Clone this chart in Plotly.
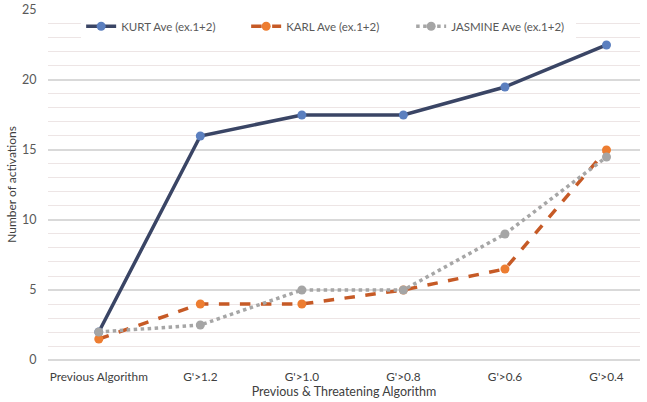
import plotly.graph_objects as go

categories = ["Previous Algorithm", "G'>1.2", "G'>1.0", "G'>0.8", "G'>0.6", "G'>0.4"]
kurt = [2, 16, 17.5, 17.5, 19.5, 22.5]
karl = [1.5, 4, 4, 5, 6.5, 15]
jasmine = [2, 2.5, 5, 5, 9, 14.5]

xi = list(range(len(categories)))

fig = go.Figure()
fig.add_trace(go.Scatter(
    x=xi, y=kurt, name="KURT Ave (ex.1+2)", mode="lines+markers",
    line=dict(color="#3A4565", width=3.5),
    marker=dict(color="#5B7FBF", size=9),
))
fig.add_trace(go.Scatter(
    x=xi, y=karl, name="KARL Ave (ex.1+2)", mode="lines+markers",
    line=dict(color="#C65A26", width=3.5, dash="dash"),
    marker=dict(color="#ED7D31", size=9),
))
fig.add_trace(go.Scatter(
    x=xi, y=jasmine, name="JASMINE Ave (ex.1+2)", mode="lines+markers",
    line=dict(color="#A6A6A6", width=3.5, dash="dot"),
    marker=dict(color="#A5A5A5", size=9),
))

fig.update_layout(
    width=647, height=402,
    margin=dict(l=48, r=7, t=9, b=42, autoexpand=False),
    paper_bgcolor="white", plot_bgcolor="white",
    font=dict(family="Lato", size=12, color="#595959"),
    showlegend=True,
    legend=dict(orientation="h", x=0.056, y=0.951, xanchor="left", yanchor="middle",
                bgcolor="white", font=dict(size=11.5, color="#595959"),
                entrywidth=120, entrywidthmode="pixels", tracegroupgap=0),
    xaxis=dict(
        range=[-0.5, 5.33], tickmode="array", tickvals=xi, ticktext=categories,
        showgrid=False, zeroline=False, showline=False, automargin=False,
        ticks="outside", ticklen=6, tickcolor="rgba(0,0,0,0)",
        tickfont=dict(size=11.8, color="#404040"),
        title=dict(text="Previous & Threatening Algorithm", standoff=0,
                   font=dict(size=12.5, color="#404040")),
    ),
    yaxis=dict(
        range=[0, 25.07], tickmode="array", tickvals=[0, 5, 10, 15, 20, 25],
        showgrid=True, gridcolor="#D9D9D9", gridwidth=1.5,
        zeroline=True, zerolinecolor="#D9D9D9", zerolinewidth=1.5, automargin=False,
        minor=dict(tickmode="linear", tick0=0, dtick=1, showgrid=True,
                   gridcolor="#EDE5E5", gridwidth=1),
        ticks="outside", ticklen=8, tickcolor="rgba(0,0,0,0)",
        ticklabeloverflow="allow",
        tickfont=dict(size=12.5, color="#595959"),
        title=dict(text="Number of activations", standoff=2,
                   font=dict(size=12, color="#404040")),
    ),
)

fig.write_html("out.html", config={"displayModeBar": False},
               post_script="document.body.style.margin='0';")
